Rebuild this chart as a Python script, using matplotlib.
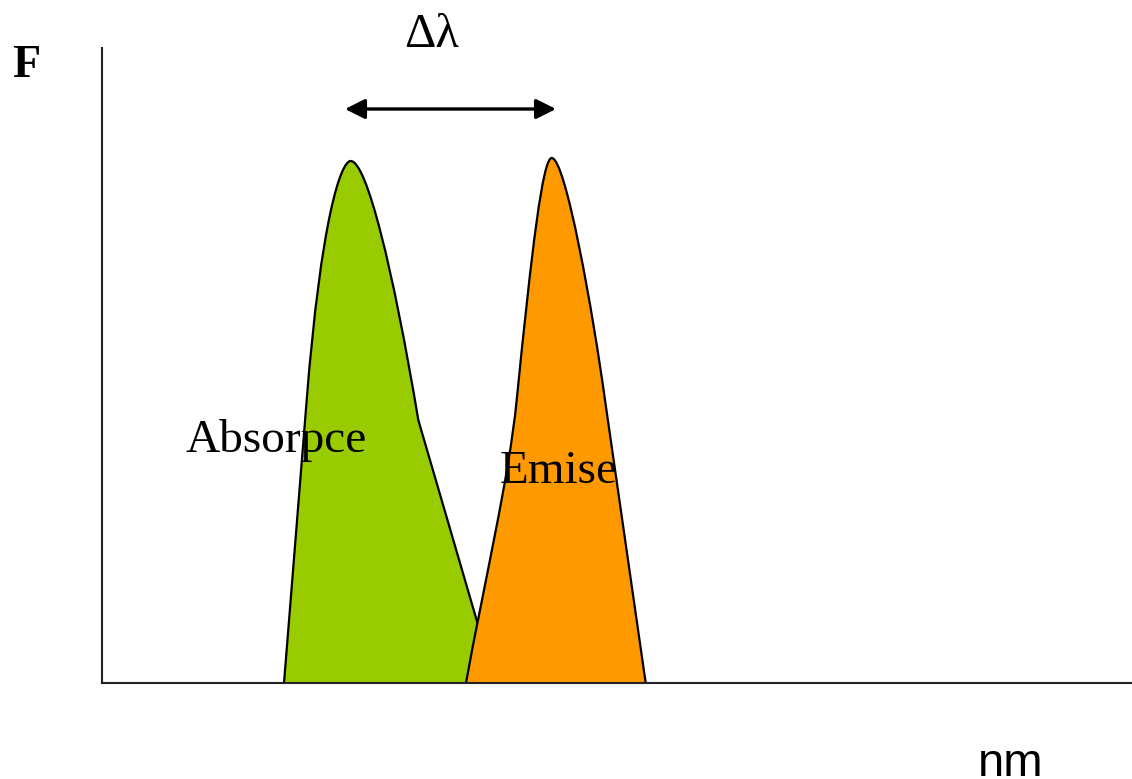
import matplotlib as mpl
mpl.use('Agg')
import matplotlib.pyplot as plt
from matplotlib.path import Path
from matplotlib.patches import PathPatch

# band outlines (x = wavelength units, y = F units)
# four cubic pieces each: left foot, left shoulder -> peak, peak -> right shoulder, right foot
abs_x = [182, 189.6, 197.1, 204.7, 219, 238.7, 248.7, 264.7, 291.3, 316.3, 341.9, 367.4, 393]
abs_y = [0, 94.3, 188.7, 283, 463, 522, 522, 522, 413, 263, 175.3, 87.7, 0]

em_x = [364, 382, 406.7, 414.7, 429.7, 440.7, 449.7, 463.7, 491, 503, 516.6, 530.1, 543.7]
em_y = [0, 100, 203, 283, 433, 525, 525, 525, 370, 283, 188.7, 94.3, 0]

seg_codes = [Path.MOVETO] + [Path.CURVE4] * 12

shift_x = [243, 454]   # arrow ends (delta lambda)
shift_y = 574

green = '#99CC00'
orange = '#FF9900'

fig = plt.figure(figsize=(11.32, 7.79), dpi=100)
ax = fig.add_axes([102 / 1132, 96 / 779, 1030 / 1132, 635 / 779])
ax.set_xlim(0, 1030)
ax.set_ylim(0, 635)

ax.text(83, 231, 'Absorpce', family='Liberation Serif', fontsize=34, va='baseline')
ax.text(398, 200, 'Emise', family='Liberation Serif', fontsize=34, va='baseline')

for xs, ys, col in [(abs_x, abs_y, green), (em_x, em_y, orange)]:
    verts = list(zip(xs, ys))
    fill = Path(verts + [verts[0]], seg_codes + [Path.CLOSEPOLY])
    edge = Path(verts, seg_codes)
    ax.add_patch(PathPatch(fill, facecolor=col, edgecolor='none'))
    ax.add_patch(PathPatch(edge, facecolor='none', edgecolor='black', lw=1.6))

ax.annotate('', xy=(shift_x[1], shift_y), xytext=(shift_x[0], shift_y),
            arrowprops=dict(arrowstyle='<|-|>', color='black', lw=2.4, mutation_scale=30,
                            shrinkA=0, shrinkB=0))

for s in ['top', 'right']:
    ax.spines[s].set_visible(False)
for s in ['left', 'bottom']:
    ax.spines[s].set_color('#222222')
    ax.spines[s].set_linewidth(1.5)
ax.set_xticks([])
ax.set_yticks([])

fig.text(432 / 1132, 1 - 47 / 779, '\u0394\u03bb', family='Liberation Serif', fontsize=35,
         ha='center', va='baseline')
fig.text(12 / 1132, 1 - 77 / 779, 'F', family='Liberation Serif', fontweight='bold', fontsize=33,
         va='baseline')
fig.text(978 / 1132, 1 - 776 / 779, 'nm', family='Liberation Sans', fontsize=34, va='baseline')

fig.savefig('out.png', dpi=100)
